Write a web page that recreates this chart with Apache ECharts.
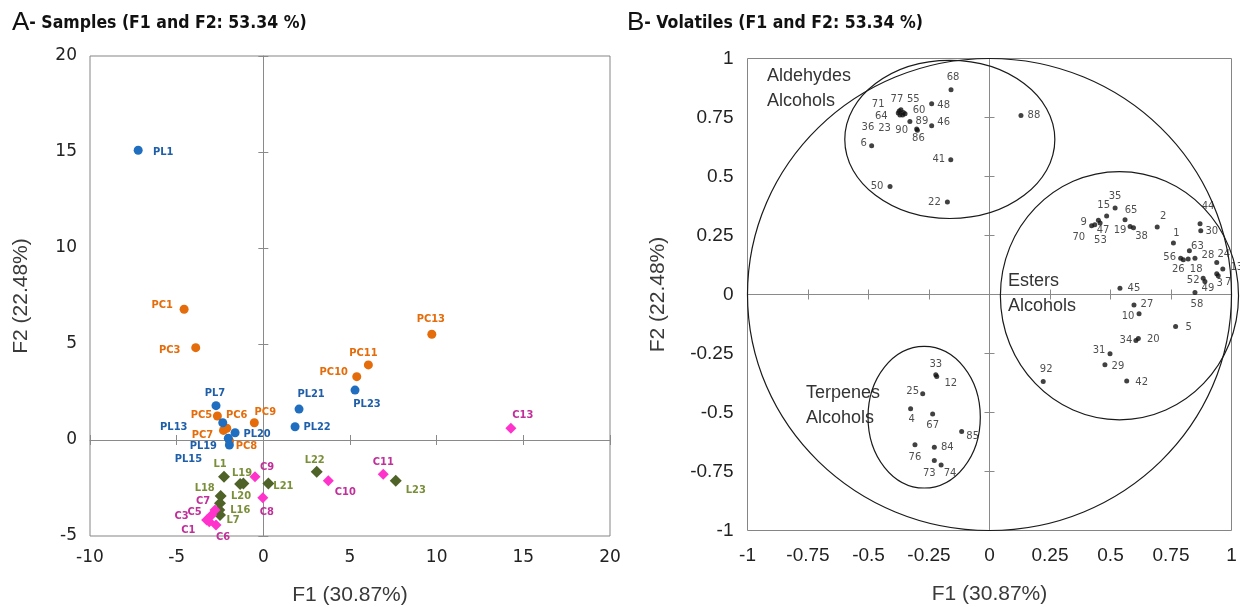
<!DOCTYPE html>
<html>
<head>
<meta charset="utf-8">
<script src="https://cdn.jsdelivr.net/npm/echarts@6/dist/echarts.min.js"></script>
<style>
  html, body { margin: 0; padding: 0; background: #fff; }
  #chart { width: 1240px; height: 607px; }
</style>
</head>
<body>
<div id="chart"></div>
<script>
// ---------- A 面板：样本得分 ----------
var plNames = ['PL1', 'PL7', 'PL13', 'PL20', 'PL19', 'PL15', 'PL21', 'PL22', 'PL23'];
var plX = [-7.22, -2.73, -2.34, -1.63, -2.02, -1.96, 2.06, 1.83, 5.29];
var plY = [15.09, 1.79, 0.90, 0.38, 0.09, -0.26, 1.61, 0.69, 2.60];

var pcNames = ['PC1', 'PC3', 'PC5', 'PC6', 'PC7', 'PC8', 'PC9', 'PC10', 'PC11', 'PC13'];
var pcX = [-4.57, -3.90, -2.65, -2.11, -2.30, -1.95, -0.52, 5.39, 6.06, 9.72];
var pcY = [6.81, 4.81, 1.25, 0.61, 0.50, -0.05, 0.90, 3.30, 3.91, 5.51];

var lNames = ['L1', 'L19', '', 'L18', 'L20', 'L16', 'L7', 'L21', 'L22', 'L23'];
var lX = [-2.27, -1.34, -1.15, -2.46, -2.50, -2.54, -2.50, 0.29, 3.08, 7.64];
var lY = [-1.91, -2.29, -2.26, -2.92, -3.30, -3.65, -3.91, -2.26, -1.65, -2.12];

var cNames = ['C1', 'C3', 'C5', 'C6', 'C7', 'C8', 'C9', 'C10', 'C11', 'C13'];
var cX = [-3.12, -3.27, -2.98, -2.73, -2.79, -0.03, -0.48, 3.75, 6.92, 14.28];
var cY = [-4.26, -4.17, -3.91, -4.43, -3.65, -3.01, -1.91, -2.12, -1.79, 0.61];

// ---------- B 面板：挥发物载荷 ----------
var volNames = ['68', '48', '71', '77', '55', '64', '60', '36', '23', '89', '90', '86', '46', '6', '41', '50', '22', '88',
  '35', '15', '65', '9', '47', '70', '53', '19', '38', '2', '44', '30', '1', '56', '63', '28', '26', '18', '24', '13', '3', '7',
  '52', '49', '58', '45', '27', '10', '5', '34', '20', '31', '29', '42', '92',
  '33', '12', '25', '4', '67', '85', '76', '84', '73', '74'];
var volX = [-0.159, -0.239, -0.373, -0.366, -0.356, -0.377, -0.349, -0.370, -0.359, -0.329, -0.301, -0.298, -0.239, -0.487, -0.160, -0.411, -0.174, 0.130,
  0.519, 0.484, 0.560, 0.422, 0.457, 0.435, 0.450, 0.581, 0.595, 0.693, 0.870, 0.873, 0.760, 0.790, 0.826, 0.849, 0.801, 0.821, 0.939, 0.964, 0.939, 0.945,
  0.883, 0.890, 0.849, 0.539, 0.597, 0.618, 0.769, 0.605, 0.615, 0.498, 0.477, 0.567, 0.222,
  -0.222, -0.218, -0.276, -0.326, -0.235, -0.115, -0.308, -0.228, -0.228, -0.200];
var volY = [0.868, 0.808, 0.778, 0.783, 0.771, 0.769, 0.766, 0.761, 0.761, 0.733, 0.701, 0.696, 0.715, 0.630, 0.571, 0.458, 0.392, 0.759,
  0.366, 0.333, 0.317, 0.291, 0.303, 0.296, 0.315, 0.288, 0.283, 0.286, 0.300, 0.270, 0.218, 0.154, 0.185, 0.154, 0.147, 0.150, 0.136, 0.108, 0.088, 0.079,
  0.069, 0.055, 0.008, 0.027, -0.044, -0.082, -0.136, -0.195, -0.186, -0.251, -0.298, -0.366, -0.369,
  -0.340, -0.347, -0.421, -0.484, -0.506, -0.581, -0.637, -0.647, -0.703, -0.722];

// 椭圆分组（相关圆 + 三个聚类）
var ellipseCx = [0, -0.164, 0.537, -0.270];
var ellipseCy = [0, 0.657, -0.005, -0.520];
var ellipseRx = [1, 0.434, 0.492, 0.232];
var ellipseRy = [1, 0.335, 0.526, 0.300];

// 标签偏移（像素），仅为排版
var sampleLabelOffset = {
  PL1: [25, 2], PC1: [-22, -4], PC3: [-26, 2], PL7: [-1, -12], PC5: [-16, -1], PL13: [-49, 4], PC6: [10, -13],
  PC7: [-21, 5], PL20: [22, 1], PL19: [-25, 8], PL15: [-41, 14], PC8: [17, 5], PC9: [11, -11], PL21: [12, -15],
  PL22: [22, 0], PL23: [12, 14], PC10: [-23, -4], PC11: [-5, -12], PC13: [-1, -15], C13: [12, -13], L22: [-2, -12],
  C10: [17, 11], C11: [0, -12], L23: [20, 9], L21: [15, 3], C9: [12, -10], C8: [4, 14], L1: [-4, -13], L19: [2, -11],
  L18: [-16, -8], L20: [21, -7], L16: [21, 0], L7: [13, 5], C7: [-12, -9], C5: [-17, -3], C3: [-25, -4], C1: [-21, 8], C6: [7, 12]
};
var volLabelOffset = {
  '68': [2, -12], '48': [12, 2], '71': [-21, -6], '77': [-4, -10], '55': [10, -13], '64': [-17, 3], '60': [14, -3],
  '36': [-32, 13], '23': [-18, 14], '89': [12, 0], '90': [-15, 1], '86': [1, 8], '46': [12, -3], '6': [-8, -2],
  '41': [-12, 0], '50': [-13, 0], '22': [-13, 0], '88': [13, 0],
  '35': [0, -12], '15': [-3, -11], '65': [6, -9], '9': [-8, -3], '47': [3, 7], '70': [-16, 13], '53': [2, 20],
  '19': [-10, 4], '38': [8, 9], '2': [6, -11], '44': [8, -17], '30': [11, 1], '1': [3, -10], '56': [-11, -1],
  '63': [8, -4], '28': [13, -3], '26': [-5, 10], '18': [8, 10], '24': [7, -8], '13': [14, -2], '3': [3, 10],
  '7': [10, 7], '52': [-10, 2], '49': [3, 7], '58': [2, 12], '45': [14, 0], '27': [13, 0], '10': [-11, 3],
  '5': [13, 1], '34': [-10, 0], '20': [15, 1], '31': [-11, -3], '29': [13, 2], '42': [15, 2], '92': [3, -12],
  '33': [0, -10], '12': [14, 7], '25': [-10, -2], '4': [1, 11], '67': [0, 11], '85': [11, 5], '76': [0, 13],
  '84': [13, 0], '73': [-5, 13], '74': [9, 9]
};

function buildPoints(names, xs, ys) {
  return names.map(function (n, i) {
    return { name: n, value: [xs[i], ys[i]] };
  });
}

// 标签位置：点中心 + 偏移
function offsetLayout(names, offsets) {
  return function (params) {
    var o = offsets[names[params.dataIndex]] || [0, 0];
    return { dx: o[0], dy: o[1], hideOverlap: false };
  };
}

// 三个轴：带刻度文字的外框轴 + 两条 0 线轴（刻度向内/向外，形成十字刻度）
function xAxes(grid, min, max, step, font, labelMargin, name, nameGap, yIdx) {
  var base = { type: 'value', gridIndex: grid, min: min, max: max, interval: step, splitLine: { show: false } };
  return [
    Object.assign({}, base, {
      position: 'bottom', name: name, nameLocation: 'middle', nameGap: nameGap,
      nameTextStyle: { fontFamily: 'Liberation Sans', fontSize: 21, color: '#3a3a3a' },
      axisLine: { show: false, onZero: false }, axisTick: { show: false },
      axisLabel: { margin: labelMargin, showMinLabel: true, showMaxLabel: true, fontFamily: font.family, fontSize: font.size, color: '#222' }
    }),
    Object.assign({}, base, {
      position: 'bottom', axisLine: { show: true, onZero: true, onZeroAxisIndex: yIdx, lineStyle: { color: '#8a8a8a', width: 1 } },
      axisTick: { show: true, length: 5, lineStyle: { color: '#8a8a8a' } }, axisLabel: { show: false }
    }),
    Object.assign({}, base, {
      position: 'bottom', axisLine: { show: false, onZero: true, onZeroAxisIndex: yIdx },
      axisTick: { show: true, inside: true, length: 5, lineStyle: { color: '#8a8a8a' } }, axisLabel: { show: false }
    })
  ];
}
function yAxes(grid, min, max, step, font, labelMargin, name, nameGap, xIdx) {
  var base = { type: 'value', gridIndex: grid, min: min, max: max, interval: step, splitLine: { show: false } };
  return [
    Object.assign({}, base, {
      position: 'left', name: name, nameLocation: 'middle', nameGap: nameGap,
      nameTextStyle: { fontFamily: 'Liberation Sans', fontSize: 21, color: '#3a3a3a' },
      axisLine: { show: false, onZero: false }, axisTick: { show: false },
      axisLabel: { margin: labelMargin, showMinLabel: true, showMaxLabel: true, fontFamily: font.family, fontSize: font.size, color: '#222' }
    }),
    Object.assign({}, base, {
      position: 'left', axisLine: { show: true, onZero: true, onZeroAxisIndex: xIdx, lineStyle: { color: '#8a8a8a', width: 1 } },
      axisTick: { show: true, length: 5, lineStyle: { color: '#8a8a8a' } }, axisLabel: { show: false }
    }),
    Object.assign({}, base, {
      position: 'left', axisLine: { show: false, onZero: true, onZeroAxisIndex: xIdx },
      axisTick: { show: true, inside: true, length: 5, lineStyle: { color: '#8a8a8a' } }, axisLabel: { show: false }
    })
  ];
}

function sampleSeries(names, xs, ys, symbol, size, markColor, labelColor) {
  return {
    type: 'scatter', xAxisIndex: 0, yAxisIndex: 0, symbol: symbol, symbolSize: size,
    itemStyle: { color: markColor, opacity: 1 },
    label: {
      show: true, position: 'inside', formatter: '{b}', color: labelColor,
      fontFamily: 'DejaVu Sans Condensed', fontSize: 11, fontWeight: 'bold'
    },
    labelLayout: offsetLayout(names, sampleLabelOffset),
    emphasis: { disabled: true },
    data: buildPoints(names, xs, ys)
  };
}

var fontA = { family: 'DejaVu Sans', size: 17 };
var fontB = { family: 'Liberation Sans', size: 19 };
var titleRich = {
  a: { fontSize: 26, fontFamily: 'Liberation Sans', fill: '#111' },
  b: { fontSize: 17.5, fontWeight: 'bold', fontFamily: 'DejaVu Sans Condensed', fill: '#111' }
};

var chart = echarts.init(document.getElementById('chart'));
chart.setOption({
  animation: false,
  backgroundColor: '#fff',
  grid: [
    { left: 90, top: 56, width: 520, height: 480, show: true, borderColor: '#858585', borderWidth: 1, containLabel: false, outerBoundsMode: 'none' },
    { left: 747.5, top: 58.5, width: 484, height: 472, show: true, borderColor: '#858585', borderWidth: 1, containLabel: false, outerBoundsMode: 'none' }
  ],
  xAxis: xAxes(0, -10, 20, 5, fontA, 13, 'F1 (30.87%)', 49, 0)
    .concat(xAxes(1, -1, 1, 0.25, fontB, 16, 'F1 (30.87%)', 53, 3)),
  yAxis: yAxes(0, -5, 20, 5, fontA, 13, 'F2 (22.48%)', 58, 0)
    .concat(yAxes(1, -1, 1, 0.25, fontB, 14, 'F2 (22.48%)', 79, 3)),
  graphic: [
    { type: 'text', left: 12, top: 10, style: { text: '{a|A}{b|- Samples (F1 and F2: 53.34 %)}', rich: titleRich } },
    { type: 'text', left: 627, top: 10, style: { text: '{a|B}{b|- Volatiles (F1 and F2: 53.34 %)}', rich: titleRich } },
    { type: 'text', left: 767, top: 64, style: { text: 'Aldehydes\nAlcohols', fontSize: 18, lineHeight: 25, fontFamily: 'Liberation Sans', fill: '#333' } },
    { type: 'text', left: 1008, top: 269, style: { text: 'Esters\nAlcohols', fontSize: 18, lineHeight: 25, fontFamily: 'Liberation Sans', fill: '#333' } },
    { type: 'text', left: 806, top: 381, style: { text: 'Terpenes\nAlcohols', fontSize: 18, lineHeight: 25, fontFamily: 'Liberation Sans', fill: '#333' } }
  ],
  series: [
    sampleSeries(pcNames, pcX, pcY, 'circle', 9, '#E46C0A', '#E46C0A'),
    sampleSeries(lNames, lX, lY, 'diamond', 12, '#4F6228', '#7A8F3A'),
    sampleSeries(cNames, cX, cY, 'diamond', 11, '#FF33CC', '#C0309A'),
    sampleSeries(plNames, plX, plY, 'circle', 9, '#1F6EC0', '#1F5FAA'),
    {
      // 椭圆：用坐标轴换算中心和半径
      type: 'custom', xAxisIndex: 3, yAxisIndex: 3, clip: false, silent: true,
      renderItem: function (params, api) {
        var c = api.coord([api.value(0), api.value(1)]);
        var e = api.coord([api.value(0) + api.value(2), api.value(1) + api.value(3)]);
        return {
          type: 'ellipse',
          shape: { cx: c[0], cy: c[1], rx: Math.abs(e[0] - c[0]), ry: Math.abs(e[1] - c[1]) },
          style: { fill: 'none', stroke: '#1a1a1a', lineWidth: 1.2 }
        };
      },
      data: ellipseCx.map(function (cx, i) { return [cx, ellipseCy[i], ellipseRx[i], ellipseRy[i]]; })
    },
    {
      type: 'scatter', xAxisIndex: 3, yAxisIndex: 3, symbol: 'circle', symbolSize: 5,
      itemStyle: { color: '#111' },
      label: {
        show: true, position: 'inside', formatter: '{b}', color: '#222',
        fontFamily: 'DejaVu Sans', fontSize: 10
      },
      labelLayout: offsetLayout(volNames, volLabelOffset),
      emphasis: { disabled: true },
      data: buildPoints(volNames, volX, volY)
    }
  ]
});
</script>
</body>
</html>
